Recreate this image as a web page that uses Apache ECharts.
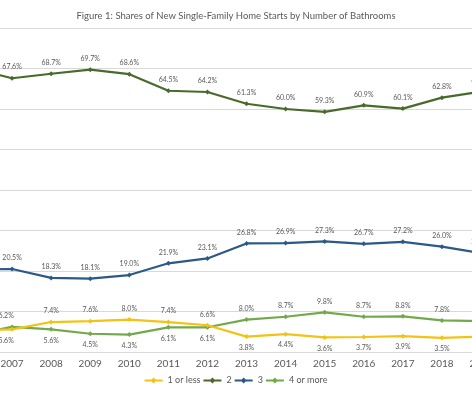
<!DOCTYPE html>
<html>
<head>
<meta charset="utf-8">
<script src="https://cdn.jsdelivr.net/npm/echarts@6/dist/echarts.min.js"></script>
<style>
html,body{margin:0;padding:0;background:#fff;overflow:hidden;width:472px;height:394px;position:relative;}
#chart{position:absolute;left:-47px;top:0;width:566px;height:394px;}
</style>
</head>
<body>
<div id="chart"></div>
<script>
var years = ['2006','2007','2008','2009','2010','2011','2012','2013','2014','2015','2016','2017','2018','2019'];
var oneOrLess = [5.4, 5.6, 7.4, 7.6, 8.0, 7.4, 6.6, 3.8, 4.4, 3.6, 3.7, 3.9, 3.5, 3.8];
var two       = [70.0, 67.6, 68.7, 69.7, 68.6, 64.5, 64.2, 61.3, 60.0, 59.3, 60.9, 60.1, 62.8, 64.3];
var three     = [20.4, 20.5, 18.3, 18.1, 19.0, 21.9, 23.1, 26.8, 26.9, 27.3, 26.7, 27.2, 26.0, 24.4];
var fourOrMore= [4.3, 6.2, 5.6, 4.5, 4.3, 6.1, 6.1, 8.0, 8.7, 9.8, 8.7, 8.8, 7.8, 7.6];
var seriesNames = ['1 or less','2','3','4 or more'];
var yTicks = [0, 10, 20, 30, 40, 50, 60, 70, 80];

// label placement (style only)
var posOne  = ['bottom','bottom','top','top','top','top','top','bottom','bottom','bottom','bottom','bottom','bottom','bottom'];
var posFour = ['top','top','bottom','bottom','bottom','bottom','bottom','top','top','top','top','top','top','top'];

var font = "Lato, 'Liberation Sans', sans-serif";
var labelColor = '#595959';

function build(vals, pos) {
  return vals.map(function (v, i) {
    var o = { value: v };
    var p = pos ? pos[i] : 'top';
    o.label = { position: p };
    if (i === 1 && pos) o.label.offset = [-6, 0];
    return o;
  });
}

function mkSeries(name, vals, color, pos, z) {
  return {
    name: name,
    type: 'line',
    data: build(vals, pos),
    z: z,
    symbol: 'diamond',
    symbolSize: 5,
    lineStyle: { color: color, width: 2.2 },
    itemStyle: { color: color },
    label: {
      show: true,
      fontSize: 7,
      fontFamily: font,
      color: labelColor,
      distance: 5,
      formatter: function (p) { return p.value.toFixed(1) + '%'; }
    },
    emphasis: { disabled: true },
    animation: false
  };
}

var chart = echarts.init(document.getElementById('chart'), null, { renderer: 'canvas' });
chart.setOption({
  backgroundColor: '#ffffff',
  animation: false,
  title: {
    text: 'Figure 1: Shares of New Single-Family Home Starts by Number of Bathrooms',
    left: 'center',
    top: 6,
    textStyle: { fontSize: 9.5, fontWeight: 'normal', color: '#595959', fontFamily: font }
  },
  legend: {
    data: seriesNames,
    bottom: 4,
    left: 'center',
    itemWidth: 18,
    itemHeight: 6,
    itemGap: 3,
    textStyle: { fontSize: 9, color: '#595959', fontFamily: font },
    icon: 'path://M0,2 L7,2 L9,0 L11,2 L18,2 L18,4 L11,4 L9,6 L7,4 L0,4 Z'
  },
  grid: { left: 0.45, right: 18.45, top: 28, bottom: 42, containLabel: false },
  xAxis: {
    type: 'category',
    data: years,
    boundaryGap: true,
    axisLine: { show: true, lineStyle: { color: '#d9d9d9' } },
    axisTick: { show: false },
    axisLabel: { fontSize: 10, color: '#595959', fontFamily: font, margin: 7 }
  },
  yAxis: {
    type: 'value',
    min: yTicks[0],
    max: yTicks[yTicks.length - 1],
    interval: 10,
    axisLabel: { show: false },
    axisLine: { show: false },
    axisTick: { show: false },
    splitLine: { lineStyle: { color: '#d9d9d9' } }
  },
  series: [
    mkSeries(seriesNames[0], oneOrLess, '#F2C314', posOne, 3),
    mkSeries(seriesNames[1], two, '#4A6A2C', null, 3),
    mkSeries(seriesNames[2], three, '#2C5A86', null, 3),
    mkSeries(seriesNames[3], fourOrMore, '#72A94A', posFour, 2)
  ]
});
</script>
</body>
</html>
